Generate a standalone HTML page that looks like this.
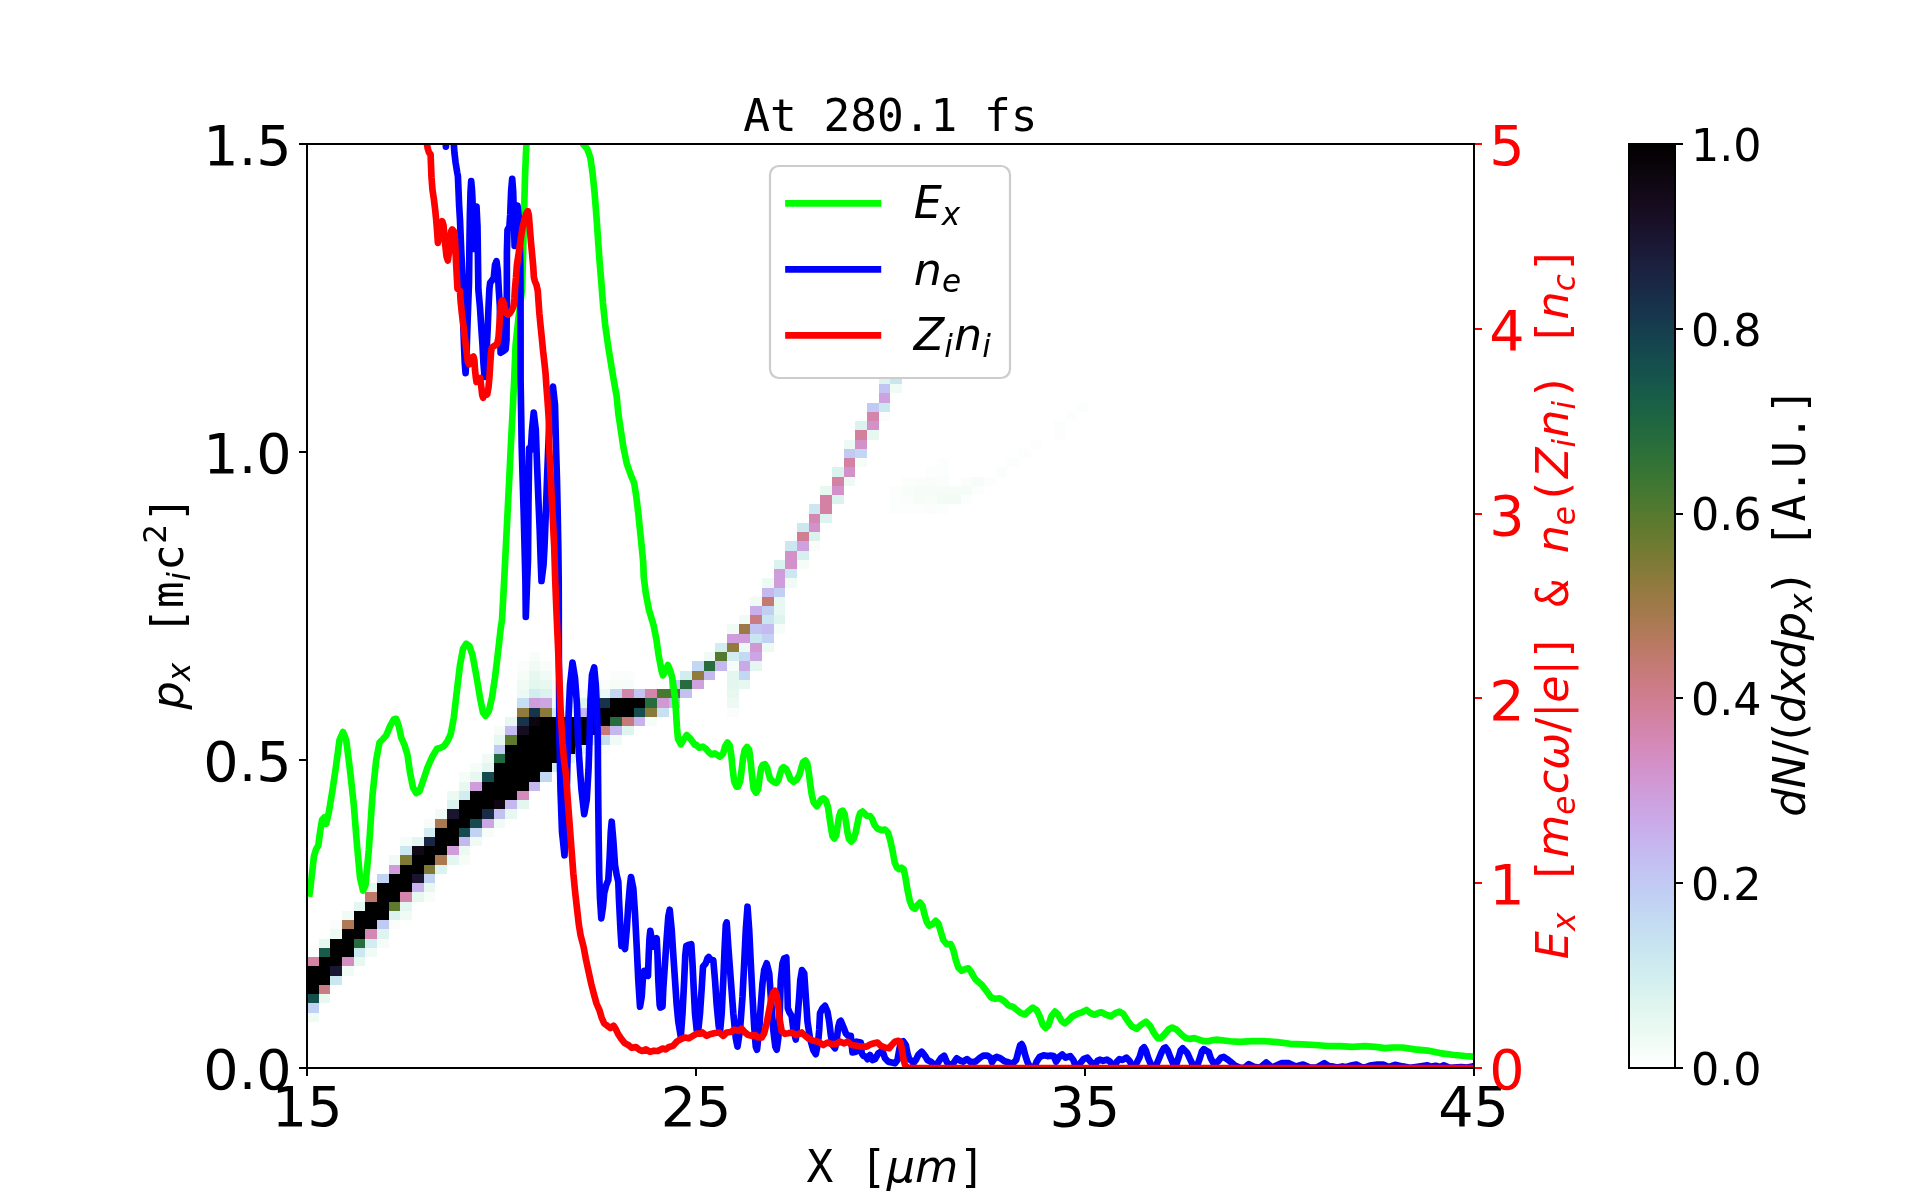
<!DOCTYPE html><html><head><meta charset="utf-8"><title>At 280.1 fs</title><style>html,body{margin:0;padding:0;background:#fff}svg{display:block;will-change:transform}text{font-kerning:none;font-variant-ligatures:none}</style></head><body><svg width="1920" height="1200" viewBox="0 0 1920 1200">
<defs><clipPath id="ax"><rect x="307" y="144" width="1167" height="924"/></clipPath>
<linearGradient id="cb" x1="0" y1="0" x2="0" y2="1"><stop offset="0.0000" stop-color="#000000"/><stop offset="0.0156" stop-color="#070206"/><stop offset="0.0312" stop-color="#0c050e"/><stop offset="0.0469" stop-color="#110815"/><stop offset="0.0625" stop-color="#150b1d"/><stop offset="0.0781" stop-color="#180f25"/><stop offset="0.0938" stop-color="#19132d"/><stop offset="0.1094" stop-color="#1a1835"/><stop offset="0.1250" stop-color="#1b1e3b"/><stop offset="0.1406" stop-color="#1a2441"/><stop offset="0.1562" stop-color="#192a46"/><stop offset="0.1719" stop-color="#18314a"/><stop offset="0.1875" stop-color="#17374d"/><stop offset="0.2031" stop-color="#163f4e"/><stop offset="0.2188" stop-color="#15464e"/><stop offset="0.2344" stop-color="#154d4e"/><stop offset="0.2500" stop-color="#16534c"/><stop offset="0.2656" stop-color="#175a49"/><stop offset="0.2812" stop-color="#1a6046"/><stop offset="0.2969" stop-color="#1e6542"/><stop offset="0.3125" stop-color="#236a3e"/><stop offset="0.3281" stop-color="#2a6e3a"/><stop offset="0.3438" stop-color="#317236"/><stop offset="0.3594" stop-color="#3a7533"/><stop offset="0.3750" stop-color="#447731"/><stop offset="0.3906" stop-color="#4e792f"/><stop offset="0.4062" stop-color="#5a7a2f"/><stop offset="0.4219" stop-color="#667a30"/><stop offset="0.4375" stop-color="#727b32"/><stop offset="0.4531" stop-color="#7e7a36"/><stop offset="0.4688" stop-color="#8a7a3b"/><stop offset="0.4844" stop-color="#967a42"/><stop offset="0.5000" stop-color="#9f7948"/><stop offset="0.5156" stop-color="#a97951"/><stop offset="0.5312" stop-color="#b3795b"/><stop offset="0.5469" stop-color="#bc7967"/><stop offset="0.5625" stop-color="#c37a73"/><stop offset="0.5781" stop-color="#c97b7f"/><stop offset="0.5938" stop-color="#ce7d8c"/><stop offset="0.6094" stop-color="#d18099"/><stop offset="0.6250" stop-color="#d383a6"/><stop offset="0.6406" stop-color="#d487b2"/><stop offset="0.6562" stop-color="#d48cbe"/><stop offset="0.6719" stop-color="#d391c9"/><stop offset="0.6875" stop-color="#d297d2"/><stop offset="0.7031" stop-color="#cf9ddb"/><stop offset="0.7188" stop-color="#cca4e2"/><stop offset="0.7344" stop-color="#caabe8"/><stop offset="0.7500" stop-color="#c7b2ed"/><stop offset="0.7656" stop-color="#c5baf0"/><stop offset="0.7812" stop-color="#c3c1f2"/><stop offset="0.7969" stop-color="#c2c8f3"/><stop offset="0.8125" stop-color="#c1cff3"/><stop offset="0.8281" stop-color="#c2d6f3"/><stop offset="0.8438" stop-color="#c4dcf2"/><stop offset="0.8594" stop-color="#c6e1f1"/><stop offset="0.8750" stop-color="#cae7f0"/><stop offset="0.8906" stop-color="#cfebef"/><stop offset="0.9062" stop-color="#d4efef"/><stop offset="0.9219" stop-color="#dbf3ef"/><stop offset="0.9375" stop-color="#e2f6f0"/><stop offset="0.9531" stop-color="#e9f8f2"/><stop offset="0.9688" stop-color="#f0fbf5"/><stop offset="0.9844" stop-color="#f8fdfa"/><stop offset="1.0000" stop-color="#ffffff"/></linearGradient></defs>
<rect x="0" y="0" width="1920" height="1200" fill="#ffffff"/>
<g shape-rendering="crispEdges">
<rect x="307" y="1013" width="12" height="9" fill="#f0fbf5"/>
<rect x="307" y="1003" width="12" height="10" fill="#c1d1f3"/>
<rect x="307" y="994" width="12" height="9" fill="#15504d"/>
<rect x="307" y="966" width="12" height="28" fill="#000000"/>
<rect x="307" y="957" width="12" height="9" fill="#d382a3"/>
<rect x="307" y="948" width="12" height="9" fill="#fafdfb"/>
<rect x="319" y="994" width="11" height="9" fill="#e7f8f1"/>
<rect x="319" y="985" width="11" height="9" fill="#ca7c83"/>
<rect x="319" y="957" width="11" height="28" fill="#000000"/>
<rect x="319" y="948" width="11" height="9" fill="#185b48"/>
<rect x="319" y="939" width="11" height="9" fill="#e7f8f1"/>
<rect x="330" y="985" width="12" height="9" fill="#ffffff"/>
<rect x="330" y="976" width="12" height="9" fill="#cbe8f0"/>
<rect x="330" y="966" width="12" height="10" fill="#1a1733"/>
<rect x="330" y="939" width="12" height="27" fill="#000000"/>
<rect x="330" y="929" width="12" height="10" fill="#edfaf4"/>
<rect x="330" y="920" width="12" height="9" fill="#fafdfb"/>
<rect x="342" y="966" width="12" height="10" fill="#f0fbf5"/>
<rect x="342" y="957" width="12" height="9" fill="#d48dc1"/>
<rect x="342" y="929" width="12" height="28" fill="#000000"/>
<rect x="342" y="920" width="12" height="9" fill="#ae7956"/>
<rect x="342" y="911" width="12" height="9" fill="#f0fbf5"/>
<rect x="354" y="957" width="11" height="9" fill="#e7f8f1"/>
<rect x="354" y="948" width="11" height="9" fill="#cbe8f0"/>
<rect x="354" y="939" width="11" height="9" fill="#266c3c"/>
<rect x="354" y="911" width="11" height="28" fill="#000000"/>
<rect x="354" y="902" width="11" height="9" fill="#e3f6f0"/>
<rect x="365" y="948" width="12" height="9" fill="#f0fbf5"/>
<rect x="365" y="939" width="12" height="9" fill="#d1edef"/>
<rect x="365" y="929" width="12" height="10" fill="#d487b2"/>
<rect x="365" y="902" width="12" height="27" fill="#000000"/>
<rect x="365" y="892" width="12" height="10" fill="#be796a"/>
<rect x="365" y="883" width="12" height="9" fill="#e3f6f0"/>
<rect x="377" y="939" width="12" height="9" fill="#f6fcf8"/>
<rect x="377" y="929" width="12" height="10" fill="#def4ef"/>
<rect x="377" y="920" width="12" height="9" fill="#c1caf3"/>
<rect x="377" y="883" width="12" height="37" fill="#000000"/>
<rect x="377" y="874" width="12" height="9" fill="#c2d2f3"/>
<rect x="389" y="920" width="11" height="9" fill="#fafdfb"/>
<rect x="389" y="911" width="11" height="9" fill="#dbf3ef"/>
<rect x="389" y="902" width="11" height="9" fill="#5d7a2f"/>
<rect x="389" y="874" width="11" height="28" fill="#000000"/>
<rect x="389" y="865" width="11" height="9" fill="#cf9ddb"/>
<rect x="389" y="855" width="11" height="10" fill="#f0fbf5"/>
<rect x="400" y="911" width="12" height="9" fill="#f0fbf5"/>
<rect x="400" y="902" width="12" height="9" fill="#e3f6f0"/>
<rect x="400" y="892" width="12" height="10" fill="#d485ac"/>
<rect x="400" y="865" width="12" height="27" fill="#000000"/>
<rect x="400" y="855" width="12" height="10" fill="#7e7a36"/>
<rect x="400" y="846" width="12" height="9" fill="#cbe8f0"/>
<rect x="400" y="837" width="12" height="9" fill="#f6fcf8"/>
<rect x="412" y="892" width="12" height="10" fill="#e7f8f1"/>
<rect x="412" y="883" width="12" height="9" fill="#c7b2ed"/>
<rect x="412" y="874" width="12" height="9" fill="#1a142f"/>
<rect x="412" y="855" width="12" height="19" fill="#000000"/>
<rect x="412" y="846" width="12" height="9" fill="#120817"/>
<rect x="412" y="837" width="12" height="9" fill="#e3f6f0"/>
<rect x="424" y="892" width="11" height="10" fill="#f8fdfa"/>
<rect x="424" y="883" width="11" height="9" fill="#e7f8f1"/>
<rect x="424" y="874" width="11" height="9" fill="#c2d2f3"/>
<rect x="424" y="865" width="11" height="9" fill="#7e7a36"/>
<rect x="424" y="846" width="11" height="19" fill="#000000"/>
<rect x="424" y="837" width="11" height="9" fill="#1a2744"/>
<rect x="424" y="828" width="11" height="9" fill="#d1edef"/>
<rect x="424" y="819" width="11" height="9" fill="#f6fcf8"/>
<rect x="435" y="865" width="12" height="9" fill="#dbf3ef"/>
<rect x="435" y="855" width="12" height="10" fill="#a97951"/>
<rect x="435" y="828" width="12" height="27" fill="#000000"/>
<rect x="435" y="819" width="12" height="9" fill="#a97951"/>
<rect x="435" y="809" width="12" height="10" fill="#f0fbf5"/>
<rect x="447" y="855" width="12" height="10" fill="#e3f6f0"/>
<rect x="447" y="846" width="12" height="9" fill="#cf9ddb"/>
<rect x="447" y="819" width="12" height="27" fill="#000000"/>
<rect x="447" y="809" width="12" height="10" fill="#1a142f"/>
<rect x="447" y="800" width="12" height="9" fill="#dbf3ef"/>
<rect x="447" y="791" width="12" height="9" fill="#edfaf4"/>
<rect x="459" y="855" width="11" height="10" fill="#f6fcf8"/>
<rect x="459" y="846" width="11" height="9" fill="#edfaf4"/>
<rect x="459" y="837" width="11" height="9" fill="#c5b8ef"/>
<rect x="459" y="828" width="11" height="9" fill="#154b4e"/>
<rect x="459" y="800" width="11" height="28" fill="#000000"/>
<rect x="459" y="791" width="11" height="9" fill="#d1edef"/>
<rect x="459" y="782" width="11" height="9" fill="#e7f8f1"/>
<rect x="459" y="772" width="11" height="10" fill="#f6fcf8"/>
<rect x="470" y="837" width="12" height="9" fill="#f0fbf5"/>
<rect x="470" y="828" width="12" height="9" fill="#c2d2f3"/>
<rect x="470" y="819" width="12" height="9" fill="#154b4e"/>
<rect x="470" y="791" width="12" height="28" fill="#000000"/>
<rect x="470" y="782" width="12" height="9" fill="#cf9ddb"/>
<rect x="470" y="772" width="12" height="10" fill="#e7f8f1"/>
<rect x="470" y="763" width="12" height="9" fill="#f6fcf8"/>
<rect x="482" y="828" width="12" height="9" fill="#f6fcf8"/>
<rect x="482" y="819" width="12" height="9" fill="#cca6e4"/>
<rect x="482" y="809" width="12" height="10" fill="#192c47"/>
<rect x="482" y="782" width="12" height="27" fill="#000000"/>
<rect x="482" y="772" width="12" height="10" fill="#154b4e"/>
<rect x="482" y="763" width="12" height="9" fill="#e3f6f0"/>
<rect x="482" y="754" width="12" height="9" fill="#f0fbf5"/>
<rect x="494" y="819" width="11" height="9" fill="#f0fbf5"/>
<rect x="494" y="809" width="11" height="10" fill="#c3c1f2"/>
<rect x="494" y="800" width="11" height="9" fill="#0f0611"/>
<rect x="494" y="763" width="11" height="37" fill="#000000"/>
<rect x="494" y="754" width="11" height="9" fill="#22693f"/>
<rect x="494" y="745" width="11" height="9" fill="#c1caf3"/>
<rect x="494" y="735" width="11" height="10" fill="#e7f8f1"/>
<rect x="494" y="726" width="11" height="9" fill="#f6fcf8"/>
<rect x="505" y="809" width="12" height="10" fill="#e7f8f1"/>
<rect x="505" y="800" width="12" height="9" fill="#c5b8ef"/>
<rect x="505" y="745" width="12" height="55" fill="#000000"/>
<rect x="505" y="735" width="12" height="10" fill="#5d7a2f"/>
<rect x="505" y="726" width="12" height="9" fill="#c4bcf1"/>
<rect x="505" y="717" width="12" height="9" fill="#e7f8f1"/>
<rect x="517" y="800" width="12" height="9" fill="#e3f6f0"/>
<rect x="517" y="791" width="12" height="9" fill="#d48abb"/>
<rect x="517" y="735" width="12" height="56" fill="#000000"/>
<rect x="517" y="726" width="12" height="9" fill="#160d21"/>
<rect x="517" y="717" width="12" height="9" fill="#17344c"/>
<rect x="517" y="708" width="12" height="9" fill="#907a3e"/>
<rect x="517" y="698" width="12" height="10" fill="#c5dff2"/>
<rect x="517" y="689" width="12" height="9" fill="#edfaf4"/>
<rect x="517" y="680" width="12" height="9" fill="#f0fbf5"/>
<rect x="517" y="671" width="12" height="9" fill="#f6fcf8"/>
<rect x="517" y="661" width="12" height="10" fill="#fafdfb"/>
<rect x="529" y="782" width="11" height="9" fill="#c5b8ef"/>
<rect x="529" y="726" width="11" height="56" fill="#000000"/>
<rect x="529" y="717" width="11" height="9" fill="#0c050e"/>
<rect x="529" y="708" width="11" height="9" fill="#17344c"/>
<rect x="529" y="698" width="11" height="10" fill="#cf9ddb"/>
<rect x="529" y="689" width="11" height="9" fill="#d1edef"/>
<rect x="529" y="680" width="11" height="9" fill="#e3f6f0"/>
<rect x="529" y="671" width="11" height="9" fill="#e7f8f1"/>
<rect x="529" y="661" width="11" height="10" fill="#f0fbf5"/>
<rect x="529" y="652" width="11" height="9" fill="#f8fdfa"/>
<rect x="540" y="772" width="12" height="10" fill="#c2d7f3"/>
<rect x="540" y="717" width="12" height="55" fill="#000000"/>
<rect x="540" y="708" width="12" height="9" fill="#8a7a3b"/>
<rect x="540" y="698" width="12" height="10" fill="#cca6e4"/>
<rect x="540" y="689" width="12" height="9" fill="#dbf3ef"/>
<rect x="540" y="680" width="12" height="9" fill="#e7f8f1"/>
<rect x="540" y="671" width="12" height="9" fill="#f0fbf5"/>
<rect x="540" y="661" width="12" height="10" fill="#f8fdfa"/>
<rect x="552" y="763" width="12" height="9" fill="#d1edef"/>
<rect x="552" y="717" width="12" height="46" fill="#000000"/>
<rect x="552" y="708" width="12" height="9" fill="#d1edef"/>
<rect x="552" y="698" width="12" height="10" fill="#f0fbf5"/>
<rect x="552" y="689" width="12" height="9" fill="#f6fcf8"/>
<rect x="552" y="680" width="12" height="9" fill="#f8fdfa"/>
<rect x="564" y="754" width="11" height="9" fill="#def4ef"/>
<rect x="564" y="717" width="11" height="37" fill="#000000"/>
<rect x="564" y="708" width="11" height="9" fill="#f0fbf5"/>
<rect x="564" y="698" width="11" height="10" fill="#e3f6f0"/>
<rect x="564" y="689" width="11" height="9" fill="#f6fcf8"/>
<rect x="575" y="745" width="12" height="9" fill="#dbf3ef"/>
<rect x="575" y="717" width="12" height="28" fill="#000000"/>
<rect x="575" y="708" width="12" height="9" fill="#c5b8ef"/>
<rect x="575" y="698" width="12" height="10" fill="#def4ef"/>
<rect x="575" y="689" width="12" height="9" fill="#f8fdfa"/>
<rect x="587" y="735" width="12" height="10" fill="#d1edef"/>
<rect x="587" y="708" width="12" height="27" fill="#000000"/>
<rect x="587" y="698" width="12" height="10" fill="#cf9ddb"/>
<rect x="587" y="689" width="12" height="9" fill="#f0fbf5"/>
<rect x="599" y="745" width="11" height="9" fill="#fafdfb"/>
<rect x="599" y="735" width="11" height="10" fill="#c5dff2"/>
<rect x="599" y="726" width="11" height="9" fill="#c67a79"/>
<rect x="599" y="708" width="11" height="18" fill="#000000"/>
<rect x="599" y="698" width="11" height="10" fill="#17344c"/>
<rect x="599" y="689" width="11" height="9" fill="#edfaf4"/>
<rect x="599" y="680" width="11" height="9" fill="#fafdfb"/>
<rect x="610" y="735" width="12" height="10" fill="#f0fbf5"/>
<rect x="610" y="726" width="12" height="9" fill="#c5b8ef"/>
<rect x="610" y="717" width="12" height="9" fill="#266c3c"/>
<rect x="610" y="698" width="12" height="19" fill="#000000"/>
<rect x="610" y="689" width="12" height="9" fill="#c2d7f3"/>
<rect x="610" y="680" width="12" height="9" fill="#f6fcf8"/>
<rect x="610" y="671" width="12" height="9" fill="#fafdfb"/>
<rect x="622" y="726" width="12" height="9" fill="#def4ef"/>
<rect x="622" y="717" width="12" height="9" fill="#c67a79"/>
<rect x="622" y="698" width="12" height="19" fill="#000000"/>
<rect x="622" y="689" width="12" height="9" fill="#d485ac"/>
<rect x="622" y="680" width="12" height="9" fill="#f6fcf8"/>
<rect x="622" y="671" width="12" height="9" fill="#fafdfb"/>
<rect x="634" y="717" width="11" height="9" fill="#c7b2ed"/>
<rect x="634" y="708" width="11" height="9" fill="#154e4d"/>
<rect x="634" y="698" width="11" height="10" fill="#000000"/>
<rect x="634" y="689" width="11" height="9" fill="#c2c5f3"/>
<rect x="645" y="717" width="12" height="9" fill="#f6fcf8"/>
<rect x="645" y="708" width="12" height="9" fill="#877a3a"/>
<rect x="645" y="698" width="12" height="10" fill="#266c3c"/>
<rect x="645" y="689" width="12" height="9" fill="#d485ac"/>
<rect x="657" y="708" width="12" height="9" fill="#c6e1f1"/>
<rect x="657" y="698" width="12" height="10" fill="#d198d4"/>
<rect x="657" y="689" width="12" height="9" fill="#497830"/>
<rect x="669" y="698" width="11" height="10" fill="#c5b8ef"/>
<rect x="669" y="689" width="11" height="9" fill="#497830"/>
<rect x="669" y="680" width="11" height="9" fill="#c1caf3"/>
<rect x="680" y="689" width="12" height="9" fill="#c3c1f2"/>
<rect x="680" y="680" width="12" height="9" fill="#266c3c"/>
<rect x="680" y="671" width="12" height="9" fill="#d1edef"/>
<rect x="692" y="680" width="12" height="9" fill="#cea1df"/>
<rect x="692" y="671" width="12" height="9" fill="#907a3e"/>
<rect x="692" y="661" width="12" height="10" fill="#c2d7f3"/>
<rect x="704" y="671" width="11" height="9" fill="#c5b8ef"/>
<rect x="704" y="661" width="11" height="10" fill="#266c3c"/>
<rect x="704" y="652" width="11" height="9" fill="#f0fbf5"/>
<rect x="715" y="661" width="12" height="10" fill="#c5b8ef"/>
<rect x="715" y="652" width="12" height="9" fill="#54792f"/>
<rect x="715" y="643" width="12" height="9" fill="#d1edef"/>
<rect x="727" y="708" width="12" height="9" fill="#fafdfb"/>
<rect x="727" y="698" width="12" height="10" fill="#edfaf4"/>
<rect x="727" y="689" width="12" height="9" fill="#e7f8f1"/>
<rect x="727" y="671" width="12" height="18" fill="#e3f6f0"/>
<rect x="727" y="661" width="12" height="10" fill="#f6fcf8"/>
<rect x="727" y="652" width="12" height="9" fill="#d1edef"/>
<rect x="727" y="643" width="12" height="9" fill="#907a3e"/>
<rect x="727" y="634" width="12" height="9" fill="#cf9ddb"/>
<rect x="727" y="624" width="12" height="10" fill="#f0fbf5"/>
<rect x="739" y="680" width="11" height="9" fill="#e7f8f1"/>
<rect x="739" y="671" width="11" height="9" fill="#c2d7f3"/>
<rect x="739" y="661" width="11" height="10" fill="#caa9e7"/>
<rect x="739" y="652" width="11" height="9" fill="#c3daf2"/>
<rect x="739" y="643" width="11" height="9" fill="#edfaf4"/>
<rect x="739" y="634" width="11" height="9" fill="#cf9ddb"/>
<rect x="739" y="624" width="11" height="10" fill="#9c7946"/>
<rect x="739" y="615" width="11" height="9" fill="#f0fbf5"/>
<rect x="750" y="661" width="12" height="10" fill="#e3f6f0"/>
<rect x="750" y="652" width="12" height="9" fill="#cca6e4"/>
<rect x="750" y="643" width="12" height="9" fill="#d198d4"/>
<rect x="750" y="634" width="12" height="9" fill="#c9e5f0"/>
<rect x="750" y="624" width="12" height="10" fill="#c2c5f3"/>
<rect x="750" y="615" width="12" height="9" fill="#ca7c83"/>
<rect x="750" y="606" width="12" height="9" fill="#c8afea"/>
<rect x="750" y="597" width="12" height="9" fill="#f0fbf5"/>
<rect x="762" y="643" width="12" height="9" fill="#edfaf4"/>
<rect x="762" y="634" width="12" height="9" fill="#c2d2f3"/>
<rect x="762" y="624" width="12" height="10" fill="#c4bcf1"/>
<rect x="762" y="615" width="12" height="9" fill="#c9e5f0"/>
<rect x="762" y="606" width="12" height="9" fill="#c1cff3"/>
<rect x="762" y="597" width="12" height="9" fill="#c37a73"/>
<rect x="762" y="588" width="12" height="9" fill="#c5b8ef"/>
<rect x="762" y="578" width="12" height="10" fill="#edfaf4"/>
<rect x="774" y="624" width="11" height="10" fill="#f6fcf8"/>
<rect x="774" y="615" width="11" height="9" fill="#def4ef"/>
<rect x="774" y="597" width="11" height="18" fill="#e7f8f1"/>
<rect x="774" y="588" width="11" height="9" fill="#c1cff3"/>
<rect x="774" y="569" width="11" height="19" fill="#cf9ddb"/>
<rect x="774" y="560" width="11" height="9" fill="#dbf3ef"/>
<rect x="785" y="578" width="12" height="10" fill="#f0fbf5"/>
<rect x="785" y="569" width="12" height="9" fill="#cbe8f0"/>
<rect x="785" y="551" width="12" height="18" fill="#d391c9"/>
<rect x="785" y="541" width="12" height="10" fill="#cbe8f0"/>
<rect x="797" y="560" width="12" height="9" fill="#f6fcf8"/>
<rect x="797" y="551" width="12" height="9" fill="#d6f0ef"/>
<rect x="797" y="541" width="12" height="10" fill="#cea1df"/>
<rect x="797" y="532" width="12" height="9" fill="#d07e93"/>
<rect x="797" y="523" width="12" height="9" fill="#cbe8f0"/>
<rect x="809" y="541" width="11" height="10" fill="#f8fdfa"/>
<rect x="809" y="532" width="11" height="9" fill="#dbf3ef"/>
<rect x="809" y="523" width="11" height="9" fill="#d391c9"/>
<rect x="809" y="514" width="11" height="9" fill="#d487b2"/>
<rect x="809" y="504" width="11" height="10" fill="#cbe8f0"/>
<rect x="820" y="514" width="12" height="9" fill="#def4ef"/>
<rect x="820" y="495" width="12" height="19" fill="#d382a3"/>
<rect x="820" y="486" width="12" height="9" fill="#e7f8f1"/>
<rect x="832" y="495" width="12" height="9" fill="#dbf3ef"/>
<rect x="832" y="486" width="12" height="9" fill="#d391c9"/>
<rect x="832" y="477" width="12" height="9" fill="#d382a3"/>
<rect x="832" y="467" width="12" height="10" fill="#dbf3ef"/>
<rect x="844" y="477" width="11" height="9" fill="#edfaf4"/>
<rect x="844" y="467" width="11" height="10" fill="#d391c9"/>
<rect x="844" y="458" width="11" height="9" fill="#d382a3"/>
<rect x="844" y="449" width="11" height="9" fill="#c1caf3"/>
<rect x="844" y="440" width="11" height="9" fill="#edfaf4"/>
<rect x="855" y="458" width="12" height="9" fill="#f6fcf8"/>
<rect x="855" y="449" width="12" height="9" fill="#c2d7f3"/>
<rect x="855" y="440" width="12" height="9" fill="#d391c9"/>
<rect x="855" y="430" width="12" height="10" fill="#d2809c"/>
<rect x="855" y="421" width="12" height="9" fill="#dbf3ef"/>
<rect x="867" y="430" width="12" height="10" fill="#e7f8f1"/>
<rect x="867" y="421" width="12" height="9" fill="#d391c9"/>
<rect x="867" y="412" width="12" height="9" fill="#d485ac"/>
<rect x="867" y="403" width="12" height="9" fill="#c1caf3"/>
<rect x="879" y="412" width="11" height="9" fill="#fafdfb"/>
<rect x="879" y="403" width="11" height="9" fill="#cbe8f0"/>
<rect x="879" y="393" width="11" height="10" fill="#cea1df"/>
<rect x="879" y="384" width="11" height="9" fill="#c2c5f3"/>
<rect x="879" y="375" width="11" height="9" fill="#def4ef"/>
<rect x="890" y="504" width="12" height="10" fill="#fbfefc"/>
<rect x="890" y="486" width="12" height="18" fill="#fbfefc"/>
<rect x="890" y="384" width="12" height="9" fill="#f0fbf5"/>
<rect x="890" y="375" width="12" height="9" fill="#c9e5f0"/>
<rect x="890" y="366" width="12" height="9" fill="#cf9ddb"/>
<rect x="890" y="357" width="12" height="9" fill="#c1caf3"/>
<rect x="902" y="504" width="12" height="10" fill="#fbfefc"/>
<rect x="902" y="495" width="12" height="9" fill="#fafdfb"/>
<rect x="902" y="486" width="12" height="9" fill="#f8fdfa"/>
<rect x="902" y="477" width="12" height="9" fill="#fbfefc"/>
<rect x="914" y="504" width="12" height="10" fill="#fbfefc"/>
<rect x="914" y="495" width="12" height="9" fill="#f6fcf8"/>
<rect x="914" y="486" width="12" height="9" fill="#f6fcf8"/>
<rect x="914" y="477" width="12" height="9" fill="#fafdfb"/>
<rect x="926" y="504" width="11" height="10" fill="#fafdfb"/>
<rect x="926" y="495" width="11" height="9" fill="#f8fdfa"/>
<rect x="926" y="486" width="11" height="9" fill="#f6fcf8"/>
<rect x="926" y="477" width="11" height="9" fill="#f8fdfa"/>
<rect x="926" y="467" width="11" height="10" fill="#fbfefc"/>
<rect x="937" y="504" width="12" height="10" fill="#fbfefc"/>
<rect x="937" y="495" width="12" height="9" fill="#f2fbf6"/>
<rect x="937" y="486" width="12" height="9" fill="#f6fcf8"/>
<rect x="937" y="477" width="12" height="9" fill="#fafdfb"/>
<rect x="937" y="467" width="12" height="10" fill="#fbfefc"/>
<rect x="937" y="458" width="12" height="9" fill="#fbfefc"/>
<rect x="949" y="495" width="12" height="9" fill="#f2fbf6"/>
<rect x="949" y="486" width="12" height="9" fill="#f6fcf8"/>
<rect x="961" y="495" width="11" height="9" fill="#fbfefc"/>
<rect x="961" y="486" width="11" height="9" fill="#f6fcf8"/>
<rect x="961" y="477" width="11" height="9" fill="#fafdfb"/>
<rect x="972" y="486" width="12" height="9" fill="#fbfefc"/>
<rect x="972" y="477" width="12" height="9" fill="#f6fcf8"/>
<rect x="984" y="477" width="12" height="9" fill="#fbfefc"/>
<rect x="996" y="467" width="11" height="10" fill="#fafdfb"/>
<rect x="1007" y="458" width="12" height="9" fill="#fbfefc"/>
<rect x="1019" y="449" width="12" height="9" fill="#fbfefc"/>
<rect x="1031" y="440" width="11" height="9" fill="#fbfefc"/>
<rect x="1054" y="421" width="12" height="19" fill="#fbfefc"/>
<rect x="1066" y="412" width="11" height="9" fill="#fbfefc"/>
<rect x="1077" y="403" width="12" height="9" fill="#fbfefc"/>
</g>
<g fill="#000000" shape-rendering="crispEdges">
<rect x="306" y="1067" width="2" height="9"/>
<rect x="695" y="1067" width="2" height="9"/>
<rect x="1084" y="1067" width="2" height="9"/>
<rect x="1473" y="1067" width="2" height="9"/>
<rect x="299" y="143" width="9" height="2"/>
<rect x="299" y="451" width="9" height="2"/>
<rect x="299" y="759" width="9" height="2"/>
<rect x="299" y="1067" width="9" height="2"/>
</g>
<g clip-path="url(#ax)" fill="none" stroke-width="6.667" stroke-linejoin="round" stroke-linecap="square">
<path d="M309.6 893.5 L310.3 889.0 L312.4 870.0 L314.0 856.0 L316.0 849.5 L318.3 845.5 L320.0 832.5 L322.0 820.0 L324.2 817.5 L326.2 823.8 L328.8 812.5 L332.5 790.0 L336.2 765.0 L339.5 740.0 L343.0 732.0 L346.2 740.0 L350.0 770.0 L353.8 805.0 L357.0 845.0 L360.0 877.5 L363.0 890.5 L365.5 885.0 L368.8 850.0 L372.5 795.0 L376.2 760.0 L379.5 742.5 L382.5 739.5 L386.2 735.5 L390.0 726.2 L393.8 719.5 L396.2 718.8 L398.8 726.2 L401.2 737.5 L404.5 745.0 L407.5 755.0 L410.0 772.5 L413.0 787.5 L416.2 793.0 L419.5 791.2 L422.5 782.5 L427.5 767.5 L432.5 756.2 L437.0 748.8 L440.0 748.0 L443.8 746.2 L447.5 741.2 L450.8 733.8 L453.8 717.5 L457.0 690.0 L460.0 665.0 L463.0 648.8 L466.2 643.8 L469.5 646.2 L472.5 655.0 L476.2 675.0 L480.0 697.5 L483.0 712.5 L485.5 715.8 L488.8 711.2 L492.0 697.5 L495.0 677.5 L498.0 652.5 L500.8 627.5 L502.0 620.0 L504.2 580.0 L506.7 530.0 L509.2 480.0 L510.8 446.7 L512.5 413.3 L514.2 380.0 L515.6 345.0 L518.5 318.0 L522.0 290.0 L523.1 252.5 L524.0 215.0 L525.0 177.5 L526.0 152.5 L526.5 143.8 L528.0 100.0" stroke="#00ff00"/>
<path d="M578.0 100.0 L582.8 143.9 L587.1 148.7 L590.3 157.3 L592.5 172.5 L594.7 194.2 L596.4 215.8 L597.9 237.5 L599.4 259.2 L601.2 280.8 L602.9 302.5 L605.1 324.2 L608.1 345.9 L611.6 367.5 L614.2 382.7 L616.7 396.7 L618.3 413.3 L620.8 430.0 L623.3 446.7 L626.7 463.3 L630.8 475.0 L634.2 483.3 L636.3 496.7 L638.3 513.3 L640.0 530.0 L641.7 546.7 L643.3 563.3 L643.7 576.7 L645.8 593.3 L649.0 610.0 L653.5 625.0 L656.5 640.0 L658.6 655.0 L661.4 670.0 L662.9 675.3 L665.5 670.5 L667.9 665.0 L670.0 670.0 L672.2 677.5 L673.8 688.8 L675.2 700.0 L676.2 715.0 L677.0 728.0 L678.0 739.0 L680.8 744.2 L683.3 740.0 L686.7 735.0 L690.0 738.3 L695.0 745.0 L696.0 744.7 L699.0 747.7 L702.7 746.7 L705.7 748.5 L708.7 752.2 L711.7 754.5 L714.7 753.3 L717.7 755.2 L720.0 756.7 L723.0 753.7 L725.2 746.2 L727.5 742.5 L729.7 745.5 L731.2 754.5 L732.7 769.5 L734.2 781.5 L736.5 786.7 L738.0 786.7 L740.2 781.5 L741.7 769.5 L743.2 757.5 L744.7 750.0 L747.0 747.0 L749.2 750.0 L750.7 762.0 L752.2 777.0 L753.7 789.0 L756.0 792.7 L758.2 789.0 L759.7 777.0 L761.2 768.0 L762.7 765.0 L765.0 764.2 L767.2 768.0 L768.7 774.0 L770.2 779.2 L773.2 781.5 L776.2 783.0 L778.5 780.0 L780.0 774.0 L781.8 768.7 L783.7 767.2 L786.0 768.7 L788.2 773.2 L790.5 779.2 L793.5 781.8 L796.5 780.0 L799.5 774.7 L801.7 766.5 L803.2 762.0 L805.5 760.5 L807.3 763.5 L808.8 772.5 L810.3 784.5 L811.8 795.0 L813.7 802.5 L816.7 806.2 L819.0 803.2 L821.2 799.5 L823.5 798.3 L825.7 800.2 L828.0 807.0 L829.5 817.5 L831.0 828.0 L832.5 836.2 L834.3 838.5 L836.2 835.5 L837.7 825.0 L839.2 816.0 L840.7 811.5 L842.7 810.7 L844.5 813.7 L846.0 822.0 L847.5 832.5 L849.0 839.2 L851.2 841.5 L853.5 839.2 L855.7 832.5 L857.2 825.0 L858.7 817.5 L860.2 813.0 L862.5 811.5 L864.7 813.7 L867.0 816.0 L870.0 816.0 L872.2 819.0 L874.5 825.0 L877.5 828.7 L881.2 830.2 L885.0 829.5 L888.0 832.5 L890.2 840.0 L892.5 850.5 L894.7 862.5 L897.0 867.7 L899.2 869.2 L901.5 867.7 L903.7 869.2 L905.2 876.0 L907.5 890.0 L910.0 901.7 L912.5 907.5 L915.0 908.7 L917.5 905.0 L920.0 902.5 L922.5 905.8 L924.2 913.3 L926.7 921.7 L929.2 925.8 L932.5 924.2 L935.8 920.8 L938.3 923.3 L940.8 931.7 L943.3 940.0 L946.7 944.2 L950.8 944.2 L953.3 950.0 L955.8 960.0 L958.3 967.5 L961.7 970.8 L965.0 969.2 L968.3 968.3 L971.7 972.5 L971.7 973.3 L975.6 979.5 L981.9 985.0 L986.6 991.2 L991.2 997.5 L995.2 998.8 L999.8 998.3 L1004.5 1001.4 L1008.4 1005.3 L1013.1 1006.9 L1017.0 1010.0 L1020.9 1013.1 L1024.8 1014.4 L1028.8 1010.8 L1032.7 1007.7 L1036.6 1010.0 L1039.7 1016.2 L1042.8 1024.8 L1045.6 1028.0 L1048.3 1025.6 L1051.4 1016.2 L1055.0 1011.6 L1058.1 1014.7 L1061.6 1020.9 L1064.7 1023.3 L1068.6 1020.2 L1072.5 1016.2 L1077.2 1013.9 L1081.9 1012.3 L1086.6 1010.0 L1090.5 1013.1 L1094.4 1014.7 L1098.3 1013.1 L1101.4 1012.3 L1106.1 1014.7 L1110.8 1016.2 L1115.5 1013.1 L1119.4 1011.6 L1123.3 1013.9 L1127.2 1020.2 L1131.9 1026.4 L1136.6 1028.8 L1141.2 1024.8 L1145.9 1021.7 L1149.8 1025.6 L1153.8 1032.7 L1157.7 1038.1 L1160.3 1038.4 L1163.9 1035.0 L1168.6 1029.5 L1172.2 1027.5 L1176.4 1029.5 L1181.1 1034.2 L1185.8 1038.1 L1189.7 1038.9 L1194.4 1038.1 L1199.1 1039.7 L1203.8 1041.2 L1208.4 1041.2 L1213.1 1040.0 L1217.8 1039.7 L1224.1 1040.5 L1230.3 1041.2 L1240.0 1041.9 L1252.5 1041.2 L1265.0 1041.2 L1277.5 1042.1 L1290.0 1043.8 L1302.5 1044.4 L1315.0 1045.0 L1327.5 1046.0 L1340.0 1046.2 L1352.5 1046.9 L1365.0 1046.2 L1375.0 1046.9 L1385.0 1048.1 L1392.5 1047.5 L1402.5 1047.5 L1415.0 1049.4 L1427.5 1050.6 L1440.0 1053.1 L1452.5 1054.8 L1465.0 1056.0 L1474.0 1056.6" stroke="#00ff00"/>
<path d="M445.0 120.0 L445.9 146.6 L447.0 120.0 L452.0 120.0 L453.8 143.8 L454.4 152.5 L455.6 162.5 L457.2 172.5 L457.9 176.2 L458.5 190.0 L459.1 205.0 L460.0 220.0 L460.6 235.0 L461.2 250.0 L461.9 265.0 L462.5 277.5 L463.1 290.0 L463.1 320.0 L464.0 345.0 L464.8 363.8 L465.6 373.1 L466.5 357.5 L467.2 332.5 L468.1 307.5 L469.0 282.5 L469.2 265.0 L469.5 240.0 L469.9 215.0 L470.5 192.5 L471.2 181.2 L472.0 190.0 L472.5 200.0 L473.5 249.0 L476.5 206.5 L477.5 227.0 L478.4 290.0 L480.0 307.5 L481.2 326.2 L482.5 345.0 L483.5 363.8 L484.6 377.0 L486.2 357.5 L487.5 332.5 L488.5 307.5 L489.4 288.8 L490.2 282.5 L491.5 281.2 L493.8 277.5 L495.0 265.0 L496.5 261.2 L497.8 271.2 L498.8 290.0 L499.8 305.0 L500.2 325.0 L500.6 352.8 L503.1 351.2 L505.6 349.4 L506.5 340.0 L506.8 300.0 L506.9 252.5 L507.5 230.0 L509.4 226.2 L510.2 215.0 L511.2 190.0 L512.2 178.8 L513.2 192.0 L514.6 246.0 L516.3 215.0 L517.5 205.6 L518.8 217.5 L519.8 240.0 L520.3 265.0 L520.5 290.0 L520.6 320.0 L520.6 380.0 L521.7 446.7 L523.7 513.3 L525.4 580.0 L525.8 617.0 L526.7 593.0 L528.0 560.0 L528.5 500.0 L529.2 448.3 L530.8 450.0 L532.0 430.0 L533.7 412.5 L535.8 430.0 L537.0 463.3 L538.3 496.7 L539.7 530.0 L540.8 563.3 L541.5 581.0 L543.5 565.0 L544.5 546.7 L545.8 513.3 L547.0 480.0 L548.3 446.7 L550.0 413.3 L551.7 390.0 L553.0 386.7 L555.0 405.0 L556.0 446.7 L557.0 480.0 L557.7 513.3 L558.3 546.7 L558.7 580.0 L558.9 660.0 L559.5 740.0 L560.5 790.0 L562.0 831.7 L564.5 855.3 L566.0 823.0 L567.5 760.0 L568.5 718.0 L570.0 685.0 L572.5 662.5 L575.0 678.0 L577.0 705.0 L578.0 740.0 L580.0 770.0 L581.5 790.0 L584.2 814.2 L586.7 800.0 L588.5 770.0 L589.5 740.0 L590.5 700.0 L592.0 675.0 L594.2 667.5 L595.8 685.0 L597.0 710.0 L597.8 740.0 L598.0 773.3 L598.3 806.7 L598.7 840.0 L599.2 873.3 L600.0 898.3 L601.3 918.3 L603.0 906.7 L604.2 893.3 L606.3 885.0 L608.3 880.0 L609.7 856.7 L610.8 831.7 L611.7 821.7 L613.3 840.0 L615.0 865.0 L616.7 875.0 L618.3 881.7 L619.0 900.0 L620.5 930.0 L621.5 946.0 L623.0 945.0 L625.0 949.0 L626.7 930.0 L628.3 905.0 L630.0 885.0 L631.0 877.0 L633.3 888.3 L635.0 913.3 L636.7 946.7 L638.3 980.0 L640.0 1006.7 L641.7 996.7 L643.0 976.7 L644.2 970.8 L648.0 975.8 L648.7 955.0 L649.5 938.3 L650.3 930.8 L653.0 946.7 L656.7 938.3 L657.5 955.0 L658.3 980.0 L659.7 1005.0 L660.3 1007.5 L662.5 1006.7 L663.3 988.3 L665.0 963.3 L666.7 938.3 L668.3 916.7 L669.7 909.7 L671.7 930.0 L673.3 955.0 L675.0 980.0 L676.7 1005.0 L678.3 1021.7 L680.8 1036.7 L682.5 1013.3 L684.2 980.0 L685.3 955.0 L686.3 945.8 L689.2 944.7 L691.3 944.2 L692.5 963.3 L693.7 988.3 L695.0 1013.3 L696.7 1030.0 L698.0 1033.0 L700.0 1013.3 L701.7 988.3 L703.0 966.7 L705.8 963.3 L707.5 958.3 L708.7 957.0 L710.8 959.7 L713.3 960.3 L715.0 980.0 L716.7 1005.0 L718.7 1026.0 L720.0 1032.0 L721.7 1013.3 L723.3 980.0 L724.7 946.7 L725.8 925.0 L726.7 922.5 L728.3 946.7 L730.8 980.0 L733.3 1013.3 L735.8 1038.3 L737.5 1046.7 L740.0 1030.0 L742.5 996.7 L744.2 963.3 L745.8 930.0 L747.5 906.7 L749.2 930.0 L750.8 963.3 L752.5 996.7 L754.2 1026.7 L755.8 1046.7 L757.0 1049.7 L759.2 1030.0 L760.8 1005.0 L762.5 983.3 L764.2 970.0 L766.7 963.3 L769.2 973.3 L770.8 996.7 L773.3 1030.0 L775.3 1046.7 L776.7 1049.7 L778.3 1038.3 L779.7 1013.3 L780.8 980.0 L782.5 963.3 L784.2 958.3 L786.3 957.5 L787.3 985.0 L787.8 1008.0 L789.5 1012.5 L791.7 1016.0 L793.5 1030.0 L795.8 1039.5 L797.5 1018.0 L799.2 996.7 L800.3 980.0 L802.0 970.0 L804.2 973.3 L805.8 996.7 L807.5 1021.7 L810.0 1038.3 L813.3 1050.0 L815.8 1054.2 L818.0 1043.3 L819.2 1030.0 L820.0 1013.3 L822.5 1008.3 L825.0 1005.8 L827.5 1011.7 L829.2 1021.7 L830.8 1035.0 L832.5 1045.0 L835.0 1048.3 L836.7 1040.0 L838.3 1026.7 L839.7 1021.7 L840.8 1020.8 L843.3 1026.7 L845.8 1033.3 L848.3 1035.8 L850.8 1035.8 L852.5 1052.5 L855.8 1051.7 L856.7 1041.7 L860.8 1042.5 L861.7 1053.3 L863.3 1055.8 L865.8 1056.7 L867.5 1059.2 L870.0 1055.0 L872.5 1060.0 L875.0 1059.2 L878.3 1053.3 L880.8 1051.7 L883.3 1053.3 L885.0 1058.3 L888.3 1061.7 L891.7 1062.5 L895.0 1063.3 L897.5 1060.0 L899.2 1050.0 L900.8 1042.5 L903.3 1041.3 L905.8 1045.0 L907.5 1053.3 L909.2 1059.2 L911.7 1060.8 L913.3 1063.3 L915.8 1060.0 L918.3 1055.0 L921.7 1051.7 L925.0 1055.8 L927.5 1060.0 L930.8 1061.7 L934.2 1065.0 L937.5 1063.3 L940.8 1058.3 L944.2 1055.8 L946.7 1061.7 L949.2 1065.8 L953.3 1063.3 L956.7 1058.3 L960.0 1060.5 L963.1 1061.6 L967.0 1059.2 L970.9 1062.3 L975.6 1061.6 L980.3 1057.5 L983.4 1055.6 L987.3 1055.6 L990.5 1057.7 L992.0 1062.3 L994.4 1058.4 L996.7 1056.9 L1000.6 1058.4 L1004.5 1061.2 L1008.4 1062.3 L1012.3 1063.9 L1016.2 1060.0 L1018.6 1050.6 L1020.2 1045.2 L1021.7 1044.1 L1023.3 1047.5 L1024.8 1053.8 L1027.2 1061.6 L1030.3 1067.8 L1034.2 1067.8 L1036.6 1061.6 L1039.7 1056.9 L1043.6 1055.3 L1047.5 1056.1 L1050.6 1055.6 L1053.8 1056.1 L1056.1 1061.6 L1059.2 1056.9 L1062.3 1054.5 L1065.5 1057.7 L1067.8 1056.9 L1070.2 1056.1 L1073.3 1060.0 L1076.4 1067.8 L1080.3 1063.1 L1083.4 1059.2 L1087.3 1057.7 L1090.5 1061.6 L1094.4 1065.5 L1097.5 1060.8 L1099.8 1059.7 L1103.0 1060.8 L1106.9 1059.7 L1110.0 1061.6 L1113.9 1067.0 L1117.0 1061.6 L1119.4 1059.2 L1122.5 1060.0 L1126.4 1057.7 L1129.5 1060.8 L1132.7 1067.0 L1136.6 1063.1 L1139.7 1056.9 L1142.0 1049.1 L1144.1 1047.2 L1145.9 1050.6 L1148.3 1058.4 L1151.4 1065.5 L1155.3 1067.0 L1158.4 1060.0 L1161.6 1052.2 L1163.9 1048.3 L1165.5 1047.5 L1167.8 1050.6 L1170.2 1056.9 L1173.3 1063.9 L1176.4 1063.9 L1178.8 1056.9 L1180.6 1050.6 L1182.7 1048.3 L1185.0 1050.6 L1187.3 1053.0 L1189.7 1058.4 L1192.8 1064.7 L1196.7 1067.0 L1199.8 1058.4 L1201.9 1051.4 L1203.8 1049.1 L1206.1 1050.6 L1208.8 1052.2 L1210.8 1058.4 L1213.9 1063.9 L1217.8 1061.6 L1220.9 1057.7 L1223.8 1056.9 L1227.2 1059.2 L1230.3 1061.6 L1235.0 1065.5 L1239.7 1067.5 L1244.4 1067.8 L1248.8 1064.2 L1253.8 1066.8 L1260.0 1067.8 L1266.2 1062.4 L1272.0 1067.5 L1281.9 1063.0 L1288.8 1063.2 L1296.0 1066.5 L1303.1 1064.5 L1310.0 1067.5 L1317.0 1067.5 L1324.4 1063.2 L1330.0 1066.8 L1332.5 1066.4 L1337.0 1067.5 L1342.5 1066.4 L1346.0 1067.2 L1350.0 1065.8 L1356.2 1064.5 L1362.0 1067.5 L1366.0 1067.0 L1370.0 1065.5 L1377.5 1064.5 L1383.1 1064.5 L1389.0 1067.0 L1395.0 1064.8 L1402.5 1066.4 L1410.0 1067.8 L1417.5 1066.8 L1427.5 1065.4 L1431.0 1066.8 L1435.6 1065.8 L1440.0 1067.0 L1443.8 1065.4 L1450.0 1067.8 L1461.2 1067.0 L1467.0 1067.6 L1472.5 1066.4 L1474.0 1066.6" stroke="#0000ff"/>
<path d="M424.0 100.0 L426.9 143.8 L427.8 148.8 L429.0 152.5 L430.6 154.4 L431.0 165.0 L431.5 177.5 L432.5 190.0 L434.0 200.0 L435.2 210.0 L436.2 220.0 L437.2 232.5 L437.9 242.8 L439.4 235.0 L440.6 225.0 L442.2 221.2 L443.5 225.0 L444.4 235.0 L445.4 246.2 L446.5 256.2 L447.8 260.6 L449.0 252.5 L450.0 240.0 L451.2 231.2 L452.2 229.4 L453.8 231.2 L455.0 240.0 L455.6 252.5 L456.2 265.0 L456.9 278.0 L457.5 288.8 L460.0 290.6 L460.6 301.2 L461.9 313.8 L463.5 326.2 L465.0 338.8 L466.5 351.2 L467.8 361.2 L469.0 364.4 L470.6 363.1 L472.2 357.5 L473.5 356.6 L474.4 360.0 L475.0 370.0 L476.0 378.8 L476.5 381.9 L478.8 378.8 L480.2 378.1 L481.2 386.2 L482.2 395.0 L483.1 397.8 L485.0 393.1 L487.2 394.4 L488.5 387.5 L489.4 377.5 L490.2 365.0 L491.0 352.5 L491.9 347.5 L493.8 346.2 L495.6 345.0 L497.2 343.8 L498.5 337.5 L499.4 325.0 L500.2 312.5 L501.2 302.5 L502.5 300.2 L504.0 303.8 L505.0 310.0 L506.9 313.8 L508.1 314.8 L510.0 313.1 L511.9 310.0 L513.5 306.2 L514.4 298.8 L515.0 288.0 L516.0 277.5 L516.9 265.0 L518.8 252.5 L520.6 240.0 L522.5 227.5 L524.4 220.0 L526.2 213.8 L527.8 211.2 L528.8 215.0 L529.8 227.5 L531.0 242.5 L532.2 255.0 L533.3 267.5 L533.9 277.5 L535.0 281.5 L536.5 285.0 L537.8 291.0 L538.5 301.2 L539.4 313.8 L540.6 326.2 L541.9 338.8 L543.1 351.2 L544.4 362.5 L545.6 373.8 L546.3 385.0 L547.2 396.2 L548.0 407.5 L548.8 420.0 L549.2 446.7 L550.8 480.0 L552.5 513.3 L554.2 546.7 L555.2 580.0 L556.4 610.0 L558.6 660.0 L560.6 710.0 L562.5 743.3 L564.0 760.0 L565.8 773.3 L568.3 806.7 L570.8 840.0 L573.3 873.3 L575.2 892.7 L577.0 908.5 L578.8 924.3 L580.6 935.4 L583.5 946.5 L585.9 959.2 L588.6 971.8 L591.4 984.5 L594.3 995.6 L596.5 1003.5 L599.3 1009.8 L601.7 1017.7 L604.1 1023.3 L607.2 1025.7 L610.4 1028.0 L613.6 1025.7 L616.0 1029.6 L618.3 1034.4 L621.5 1039.1 L624.7 1043.1 L627.8 1044.7 L631.8 1047.8 L635.8 1047.0 L638.9 1049.4 L642.1 1051.0 L646.0 1049.4 L650.0 1051.8 L654.0 1050.7 L657.9 1051.0 L662.7 1048.6 L665.8 1049.4 L669.0 1047.0 L673.0 1045.9 L676.9 1041.5 L680.9 1039.1 L684.8 1037.5 L688.8 1038.3 L692.7 1036.0 L696.7 1033.6 L700.7 1033.6 L702.5 1032.5 L706.7 1035.8 L710.0 1034.2 L715.0 1033.0 L719.2 1032.5 L723.3 1035.8 L726.7 1032.5 L730.8 1032.0 L734.2 1029.7 L738.3 1030.8 L741.7 1028.7 L745.0 1032.5 L748.3 1035.0 L751.7 1035.8 L755.0 1035.0 L758.3 1037.5 L761.7 1037.5 L764.2 1033.3 L766.7 1023.3 L769.2 1010.0 L771.7 996.7 L773.7 991.7 L775.0 990.8 L776.7 995.0 L778.3 1006.7 L780.0 1021.7 L781.7 1031.2 L785.0 1033.8 L788.3 1033.3 L791.7 1032.5 L795.8 1035.0 L800.0 1033.5 L801.7 1032.5 L804.2 1035.0 L808.3 1038.3 L813.3 1040.8 L818.3 1041.7 L823.3 1045.0 L827.5 1042.5 L831.7 1044.2 L835.8 1044.2 L840.0 1041.7 L844.2 1043.3 L847.5 1041.7 L851.7 1045.0 L856.7 1045.8 L861.7 1046.7 L866.7 1046.7 L870.8 1044.2 L874.2 1043.3 L877.5 1042.5 L880.8 1045.8 L885.0 1047.5 L889.2 1048.3 L891.7 1045.0 L895.0 1041.7 L898.3 1040.8 L900.3 1041.7 L902.0 1050.0 L903.7 1060.0 L905.0 1065.0 L907.5 1067.5 L912.0 1068.0 L1474.0 1068.0" stroke="#ff0000"/>
</g>
<g fill="#000000" shape-rendering="crispEdges">
<rect x="306" y="143" width="2" height="926"/><rect x="1473" y="143" width="2" height="926"/>
<rect x="306" y="143" width="1169" height="2"/><rect x="306" y="1067" width="1169" height="2"/>
<rect x="1473" y="1067" width="2" height="9"/>
</g>
<g fill="#ff0000" shape-rendering="crispEdges">
<rect x="1475" y="143" width="7" height="2"/>
<rect x="1475" y="328" width="7" height="2"/>
<rect x="1475" y="513" width="7" height="2"/>
<rect x="1475" y="697" width="7" height="2"/>
<rect x="1475" y="882" width="7" height="2"/>
<rect x="1475" y="1067" width="7" height="2"/>
</g>
<rect x="770" y="166" width="240" height="212" rx="8.9" ry="8.9" fill="#ffffff" stroke="#cccccc" stroke-width="2.222"/>
<path d="M788.5 203.4 H877.9" stroke="#00ff00" stroke-width="6.667" stroke-linecap="square" fill="none"/>
<path d="M788.5 269.4 H877.9" stroke="#0000ff" stroke-width="6.667" stroke-linecap="square" fill="none"/>
<path d="M788.5 335.4 H877.9" stroke="#ff0000" stroke-width="6.667" stroke-linecap="square" fill="none"/>
<rect x="1629" y="144" width="46" height="924" fill="url(#cb)"/>
<g fill="#000000" shape-rendering="crispEdges">
<rect x="1628" y="143" width="2" height="926"/><rect x="1674" y="143" width="2" height="926"/>
<rect x="1628" y="143" width="48" height="2"/><rect x="1628" y="1067" width="48" height="2"/>
<rect x="1676" y="143" width="7" height="2"/>
<rect x="1676" y="328" width="7" height="2"/>
<rect x="1676" y="513" width="7" height="2"/>
<rect x="1676" y="697" width="7" height="2"/>
<rect x="1676" y="882" width="7" height="2"/>
<rect x="1676" y="1067" width="7" height="2"/>
</g>
<g transform="scale(2.2222222)"><g><g><g><text style="font-size: 25px; font-family: 'DejaVu Sans', 'Liberation Sans', sans-serif; text-anchor: middle" x="138.24" y="506.596094">15</text><text style="font-size: 25px; font-family: 'DejaVu Sans', 'Liberation Sans', sans-serif; text-anchor: middle" x="313.2" y="506.596094">25</text><text style="font-size: 25px; font-family: 'DejaVu Sans', 'Liberation Sans', sans-serif; text-anchor: middle" x="488.16" y="506.596094">35</text><text style="font-size: 25px; font-family: 'DejaVu Sans', 'Liberation Sans', sans-serif; text-anchor: middle" x="663.12" y="506.596094">45</text><g transform="translate(362.9550 532.8578)"><text><tspan x="0" y="-0.796875" style="font-size: 20px; font-family: 'DejaVu Sans Mono', 'Liberation Mono', monospace">X [</tspan><tspan x="36.123047" y="-0.796875" style="font-style: oblique; font-size: 20px; font-family: 'DejaVu Sans', 'Liberation Sans', sans-serif">μm</tspan><tspan x="68.330078" y="-0.796875" style="font-size: 20px; font-family: 'DejaVu Sans Mono', 'Liberation Mono', monospace">]</tspan></text></g></g><g><text style="font-size: 25px; font-family: 'DejaVu Sans', 'Liberation Sans', sans-serif; text-anchor: end" x="131.24" y="490.098047">0.0</text><text style="font-size: 25px; font-family: 'DejaVu Sans', 'Liberation Sans', sans-serif; text-anchor: end" x="131.24" y="351.498047">0.5</text><text style="font-size: 25px; font-family: 'DejaVu Sans', 'Liberation Sans', sans-serif; text-anchor: end" x="131.24" y="212.898047">1.0</text><text style="font-size: 25px; font-family: 'DejaVu Sans', 'Liberation Sans', sans-serif; text-anchor: end" x="131.24" y="74.298047">1.5</text><g transform="translate(83.2822 319.2250) rotate(-90)"><text><tspan x="0" y="-0.953125" style="font-style: oblique; font-size: 20px; font-family: 'DejaVu Sans', 'Liberation Sans', sans-serif">p</tspan><tspan x="12.695312" y="2.328125" style="font-style: oblique; font-size: 14px; font-family: 'DejaVu Sans', 'Liberation Sans', sans-serif">x</tspan><tspan x="21.527344" y="-0.953125" style="font-size: 20px; font-family: 'DejaVu Sans Mono', 'Liberation Mono', monospace"> [m</tspan><tspan x="57.841797" y="2.328125" style="font-style: oblique; font-size: 14px; font-family: 'DejaVu Sans', 'Liberation Sans', sans-serif">i</tspan><tspan x="62.27832" y="-0.953125" style="font-size: 20px; font-family: 'DejaVu Sans Mono', 'Liberation Mono', monospace">c</tspan><tspan x="74.510742" y="-8.609375" style="font-size: 14px; font-family: 'DejaVu Sans', 'Liberation Sans', sans-serif">2</tspan><tspan x="83.964844" y="-0.953125" style="font-size: 20px; font-family: 'DejaVu Sans Mono', 'Liberation Mono', monospace">]</tspan></text></g></g><text style="font-size: 20px; font-family: 'DejaVu Sans Mono', 'Liberation Mono', monospace; text-anchor: middle" x="400.68" y="58.8">At 280.1 fs</text></g><g><text style="font-size: 20px; font-family: 'DejaVu Sans', 'Liberation Sans', sans-serif; text-anchor: start" x="760.894" y="488.198438">0.0</text><text style="font-size: 20px; font-family: 'DejaVu Sans', 'Liberation Sans', sans-serif; text-anchor: start" x="760.894" y="405.038437">0.2</text><text style="font-size: 20px; font-family: 'DejaVu Sans', 'Liberation Sans', sans-serif; text-anchor: start" x="760.894" y="321.878437">0.4</text><text style="font-size: 20px; font-family: 'DejaVu Sans', 'Liberation Sans', sans-serif; text-anchor: start" x="760.894" y="238.718437">0.6</text><text style="font-size: 20px; font-family: 'DejaVu Sans', 'Liberation Sans', sans-serif; text-anchor: start" x="760.894" y="155.558437">0.8</text><text style="font-size: 20px; font-family: 'DejaVu Sans', 'Liberation Sans', sans-serif; text-anchor: start" x="760.894" y="72.398438">1.0</text><g transform="translate(813.0878 367.5000) rotate(-90)"><text><tspan x="0" y="-0.796875" style="font-style: oblique; font-size: 20px; font-family: 'DejaVu Sans', 'Liberation Sans', sans-serif">dN</tspan><tspan x="27.65625" y="-0.796875" style="font-size: 20px; font-family: 'DejaVu Sans', 'Liberation Sans', sans-serif">/(</tspan><tspan x="42.197266" y="-0.796875" style="font-style: oblique; font-size: 20px; font-family: 'DejaVu Sans', 'Liberation Sans', sans-serif">dxdp</tspan><tspan x="92.119141" y="2.484375" style="font-style: oblique; font-size: 14px; font-family: 'DejaVu Sans', 'Liberation Sans', sans-serif">x</tspan><tspan x="100.951172" y="-0.796875" style="font-size: 20px; font-family: 'DejaVu Sans', 'Liberation Sans', sans-serif">)</tspan><tspan x="108.753906" y="-0.796875" style="font-size: 20px; font-family: 'DejaVu Sans Mono', 'Liberation Mono', monospace"> [A.U.]</tspan></text></g></g><g><g><text style="font-size: 25px; font-family: 'DejaVu Sans', 'Liberation Sans', sans-serif; text-anchor: start; fill: #ff0000" x="670.12" y="490.098047">0</text><text style="font-size: 25px; font-family: 'DejaVu Sans', 'Liberation Sans', sans-serif; text-anchor: start; fill: #ff0000" x="670.12" y="406.938047">1</text><text style="font-size: 25px; font-family: 'DejaVu Sans', 'Liberation Sans', sans-serif; text-anchor: start; fill: #ff0000" x="670.12" y="323.778047">2</text><text style="font-size: 25px; font-family: 'DejaVu Sans', 'Liberation Sans', sans-serif; text-anchor: start; fill: #ff0000" x="670.12" y="240.618047">3</text><text style="font-size: 25px; font-family: 'DejaVu Sans', 'Liberation Sans', sans-serif; text-anchor: start; fill: #ff0000" x="670.12" y="157.458047">4</text><text style="font-size: 25px; font-family: 'DejaVu Sans', 'Liberation Sans', sans-serif; text-anchor: start; fill: #ff0000" x="670.12" y="74.298047">5</text><g style="fill: #ff0000" transform="translate(706.3263 431.6250) rotate(-90)"><text><tspan x="0" y="-0.71875" style="font-style: oblique; font-size: 20px; font-family: 'DejaVu Sans', 'Liberation Sans', sans-serif; fill: #ff0000">E</tspan><tspan x="12.636719" y="2.5625" style="font-style: oblique; font-size: 14px; font-family: 'DejaVu Sans', 'Liberation Sans', sans-serif; fill: #ff0000">x</tspan><tspan x="21.46875" y="-0.71875" style="font-size: 20px; font-family: 'DejaVu Sans Mono', 'Liberation Mono', monospace; fill: #ff0000"> [</tspan><tspan x="45.550781" y="-0.71875" style="font-style: oblique; font-size: 20px; font-family: 'DejaVu Sans', 'Liberation Sans', sans-serif; fill: #ff0000">m</tspan><tspan x="65.033203" y="2.5625" style="font-style: oblique; font-size: 14px; font-family: 'DejaVu Sans', 'Liberation Sans', sans-serif; fill: #ff0000">e</tspan><tspan x="74.193359" y="-0.71875" style="font-style: oblique; font-size: 20px; font-family: 'DejaVu Sans', 'Liberation Sans', sans-serif; fill: #ff0000">cω</tspan><tspan x="101.9375" y="-0.71875" style="font-size: 20px; font-family: 'DejaVu Sans', 'Liberation Sans', sans-serif; fill: #ff0000">/|</tspan><tspan x="115.414062" y="-0.71875" style="font-style: oblique; font-size: 20px; font-family: 'DejaVu Sans', 'Liberation Sans', sans-serif; fill: #ff0000">e</tspan><tspan x="127.71875" y="-0.71875" style="font-size: 20px; font-family: 'DejaVu Sans', 'Liberation Sans', sans-serif; fill: #ff0000">|</tspan><tspan x="134.457031" y="-0.71875" style="font-size: 20px; font-family: 'DejaVu Sans Mono', 'Liberation Mono', monospace; fill: #ff0000">] &amp; </tspan><tspan x="182.621094" y="-0.71875" style="font-style: oblique; font-size: 20px; font-family: 'DejaVu Sans', 'Liberation Sans', sans-serif; fill: #ff0000">n</tspan><tspan x="195.296875" y="2.5625" style="font-style: oblique; font-size: 14px; font-family: 'DejaVu Sans', 'Liberation Sans', sans-serif; fill: #ff0000">e</tspan><tspan x="204.457031" y="-0.71875" style="font-size: 20px; font-family: 'DejaVu Sans Mono', 'Liberation Mono', monospace; fill: #ff0000">(</tspan><tspan x="216.498047" y="-0.71875" style="font-style: oblique; font-size: 20px; font-family: 'DejaVu Sans', 'Liberation Sans', sans-serif; fill: #ff0000">Z</tspan><tspan x="230.199219" y="2.5625" style="font-style: oblique; font-size: 14px; font-family: 'DejaVu Sans', 'Liberation Sans', sans-serif; fill: #ff0000">i</tspan><tspan x="234.635742" y="-0.71875" style="font-style: oblique; font-size: 20px; font-family: 'DejaVu Sans', 'Liberation Sans', sans-serif; fill: #ff0000">n</tspan><tspan x="247.311523" y="2.5625" style="font-style: oblique; font-size: 14px; font-family: 'DejaVu Sans', 'Liberation Sans', sans-serif; fill: #ff0000">i</tspan><tspan x="251.748047" y="-0.71875" style="font-size: 20px; font-family: 'DejaVu Sans Mono', 'Liberation Mono', monospace; fill: #ff0000">) [</tspan><tspan x="287.871094" y="-0.71875" style="font-style: oblique; font-size: 20px; font-family: 'DejaVu Sans', 'Liberation Sans', sans-serif; fill: #ff0000">n</tspan><tspan x="300.546875" y="2.5625" style="font-style: oblique; font-size: 14px; font-family: 'DejaVu Sans', 'Liberation Sans', sans-serif; fill: #ff0000">c</tspan><tspan x="308.791016" y="-0.71875" style="font-size: 20px; font-family: 'DejaVu Sans Mono', 'Liberation Mono', monospace; fill: #ff0000">]</tspan></text></g></g><g><g transform="translate(411.2050 98.4469)"><text><tspan x="0" y="-0.421875" style="font-style: oblique; font-size: 20px; font-family: 'DejaVu Sans', 'Liberation Sans', sans-serif">E</tspan><tspan x="12.636719" y="2.859375" style="font-style: oblique; font-size: 14px; font-family: 'DejaVu Sans', 'Liberation Sans', sans-serif">x</tspan></text></g><g transform="translate(411.2050 128.9281)"><text><tspan x="0" y="-0.796875" style="font-style: oblique; font-size: 20px; font-family: 'DejaVu Sans', 'Liberation Sans', sans-serif">n</tspan><tspan x="12.675781" y="2.484375" style="font-style: oblique; font-size: 14px; font-family: 'DejaVu Sans', 'Liberation Sans', sans-serif">e</tspan></text></g><g transform="translate(411.2050 157.8344)"><text><tspan x="0" y="-0.421875" style="font-style: oblique; font-size: 20px; font-family: 'DejaVu Sans', 'Liberation Sans', sans-serif">Z</tspan><tspan x="13.701172" y="2.859375" style="font-style: oblique; font-size: 14px; font-family: 'DejaVu Sans', 'Liberation Sans', sans-serif">i</tspan><tspan x="18.137695" y="-0.421875" style="font-style: oblique; font-size: 20px; font-family: 'DejaVu Sans', 'Liberation Sans', sans-serif">n</tspan><tspan x="30.813477" y="2.859375" style="font-style: oblique; font-size: 14px; font-family: 'DejaVu Sans', 'Liberation Sans', sans-serif">i</tspan></text></g></g></g></g></g>
</svg></body></html>
